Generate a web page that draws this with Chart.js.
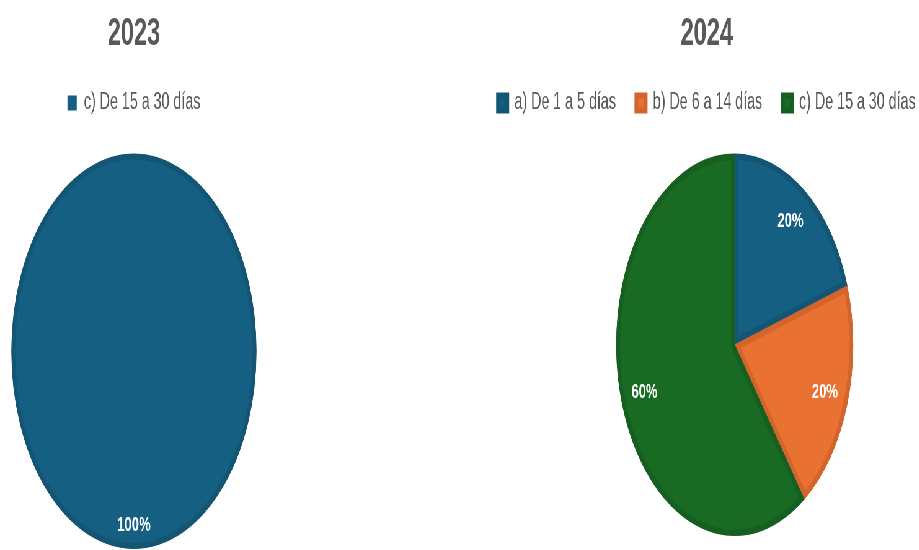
<!DOCTYPE html>
<html>
<head>
<meta charset="utf-8">
<script src="https://cdn.jsdelivr.net/npm/chart.js@4"></script>
<style>
  html, body { margin: 0; padding: 0; background: #ffffff; overflow: hidden; width: 919px; height: 550px; }
  #stage { position: absolute; left: 0; top: 0; width: 1482px; height: 550px; transform: scaleX(0.62); transform-origin: 0 0; }
  .box { position: absolute; top: 0; height: 550px; }
</style>
</head>
<body>
<div id="stage">
  <div class="box" style="left:0px;width:432px;"><canvas id="c1" width="432" height="550"></canvas></div>
  <div class="box" style="left:760px;width:760px;"><canvas id="c2" width="760" height="550"></canvas></div>
</div>
<script>
// ---- data ----
const titles = ["2023", "2024"];
const categories2023 = ["c) De 15 a 30 días"];
const values2023 = [100];
const categories2024 = ["a) De 1 a 5 días", "b) De 6 a 14 días", "c) De 15 a 30 días"];
const values2024 = [20, 20, 60];

// ---- styles (series colours by position) ----
const FILLS = ["#156082", "#E97132", "#196B24"];
const BORDERS = ["#135573", "#D2652C", "#175F21"];
const FONT = "'Liberation Sans', Arial, sans-serif";
const BORDER_W = 6;

const pctLabels = {
  id: 'pctLabels',
  afterDatasetsDraw(chart, args, opts) {
    const ctx = chart.ctx;
    const meta = chart.getDatasetMeta(0);
    const data = chart.data.datasets[0].data;
    const total = data.reduce((a, b) => a + b, 0);
    ctx.save();
    // outer ring for a slice that fills the whole circle (avoids the radial seam)
    meta.data.forEach((arc, i) => {
      const p = arc.getProps(['x', 'y', 'startAngle', 'endAngle', 'outerRadius'], true);
      if (p.endAngle - p.startAngle >= Math.PI * 2 - 1e-6) {
        ctx.beginPath();
        ctx.arc(p.x, p.y, p.outerRadius - BORDER_W / 2, 0, Math.PI * 2);
        ctx.lineWidth = BORDER_W;
        ctx.strokeStyle = BORDERS[i];
        ctx.stroke();
      }
    });
    ctx.fillStyle = '#ffffff';
    ctx.font = 'bold 21px ' + FONT;
    ctx.textAlign = 'center';
    ctx.textBaseline = 'middle';
    meta.data.forEach((arc, i) => {
      const p = arc.getProps(['x', 'y', 'startAngle', 'endAngle', 'outerRadius'], true);
      const mid = (p.startAngle + p.endAngle) / 2;
      const r = p.outerRadius * opts.factor;
      const txt = Math.round(data[i] / total * 100) + '%';
      ctx.fillText(txt, p.x + Math.cos(mid) * r, p.y + Math.sin(mid) * r);
    });
    ctx.restore();
  }
};

function spacer(position, size) {
  return {
    type: 'linear', position: position, display: true,
    grid: { display: false }, border: { display: false },
    ticks: { display: false },
    afterFit: (s) => { if (position === 'left') s.width = size; else s.height = size; }
  };
}

function makePie(id, title, cats, vals, gapLeft, gapTop, padBottom, factor) {
  const single = vals.length === 1;
  new Chart(document.getElementById(id), {
    type: 'pie',
    data: {
      labels: cats,
      datasets: [{
        data: vals,
        backgroundColor: cats.map((c, i) => FILLS[i]),
        borderColor: cats.map((c, i) => BORDERS[i]),
        borderWidth: single ? 0 : BORDER_W,
        borderAlign: 'inner'
      }]
    },
    options: {
      responsive: false,
      animation: false,
      layout: { padding: { left: 0, right: 0, top: 2, bottom: padBottom } },
      scales: {
        gapY: spacer('left', gapLeft),
        gapX: spacer('top', gapTop)
      },
      plugins: {
        title: {
          display: true,
          text: title,
          color: '#595959',
          font: { family: FONT, size: 38, weight: 'bold' },
          padding: { top: 10, bottom: 1 }
        },
        legend: {
          display: true,
          position: 'top',
          labels: {
            color: '#595959',
            font: { family: FONT, size: 23 },
            boxWidth: 15,
            boxHeight: 15,
            padding: 33
          }
        },
        tooltip: { enabled: false },
        pctLabels: { factor: factor }
      }
    },
    plugins: [pctLabels]
  });
}

makePie('c1', titles[0], categories2023, values2023, 0, 29, 1, 0.88);
makePie('c2', titles[1], categories2024, values2024, 90, 29, 14, 0.80);
</script>
</body>
</html>
